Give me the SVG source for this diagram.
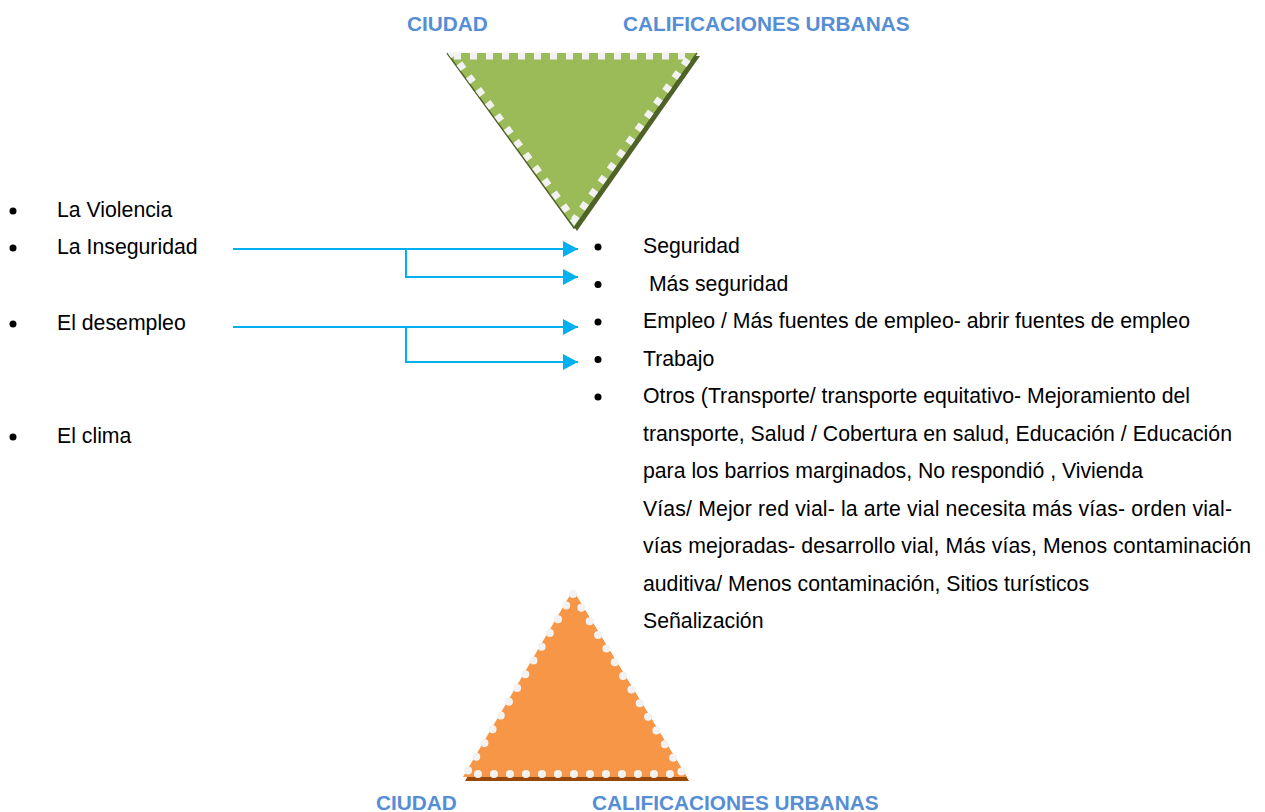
<svg xmlns="http://www.w3.org/2000/svg" width="1265" height="812" viewBox="0 0 1265 812">
<defs>
<style>
.t{font-family:"Liberation Sans",Arial,sans-serif;font-size:21.25px;fill:#000}
.h{font-family:"Liberation Sans",Arial,sans-serif;font-size:20.8px;font-weight:bold;fill:#558ED5}
.c{fill:none;stroke:#00B0F0;stroke-width:2}
.b{fill:#000}
</style>
<marker id="ah" markerWidth="16" markerHeight="16" viewBox="0 0 16 16" refX="15" refY="8" orient="auto" markerUnits="userSpaceOnUse">
<path d="M0,0 L15,8 L0,16 Z" fill="#00B0F0"/>
</marker>
</defs>
<rect width="1265" height="812" fill="#fff"/>

<g id="titles-top">
<text class="h" x="407" y="31">CIUDAD</text>
<text class="h" x="623" y="31">CALIFICACIONES URBANAS</text>
</g>

<g id="triangle-green">
<polygon points="447,53 697,53 574,228" fill="#4F6228" transform="translate(3,3)"/>
<polygon points="447,53 697,53 574,228" fill="#9BBB59"/>
<path d="M447,53 L574,228 L697,53" fill="none" stroke="#4F6228" stroke-width="1.5"/>
<polygon points="454,56 690,56 574,220" fill="none" stroke="#F2F2F2" stroke-width="7" stroke-dasharray="7 9"/>
</g>

<g id="triangle-orange">
<polygon points="573,590 687,777 463,777" fill="#984807" transform="translate(2,4)"/>
<polygon points="573,590 687,777 463,777" fill="#F79646"/>
<polygon points="573,594 683,774 466,774" fill="none" stroke="#F2F2F2" stroke-width="8" stroke-linecap="round" stroke-dasharray="0 16"/>
</g>

<g id="titles-bottom">
<text class="h" x="376" y="810">CIUDAD</text>
<text class="h" x="592" y="810">CALIFICACIONES URBANAS</text>
</g>

<g id="left-list">
<circle class="b" cx="13" cy="211" r="3.5"/><text class="t" x="57" y="217">La Violencia</text>
<circle class="b" cx="13" cy="248" r="3.5"/><text class="t" x="57" y="254">La Inseguridad</text>
<circle class="b" cx="13" cy="324" r="3.5"/><text class="t" x="57" y="330">El desempleo</text>
<circle class="b" cx="13" cy="437" r="3.5"/><text class="t" x="57" y="443">El clima</text>
</g>

<g id="right-list">
<circle class="b" cx="598" cy="247" r="3.5"/><text class="t" x="643" y="253">Seguridad</text>
<circle class="b" cx="598" cy="284.5" r="3.5"/><text class="t" x="643" y="290.5" xml:space="preserve"> Más seguridad</text>
<circle class="b" cx="598" cy="322" r="3.5"/><text class="t" x="643" y="328" textLength="547" lengthAdjust="spacing">Empleo / Más fuentes de empleo- abrir fuentes de empleo</text>
<circle class="b" cx="598" cy="359.5" r="3.5"/><text class="t" x="643" y="365.5">Trabajo</text>
<circle class="b" cx="598" cy="397" r="3.5"/><text class="t" x="643" y="403" textLength="547" lengthAdjust="spacing">Otros (Transporte/ transporte equitativo- Mejoramiento del</text>
<text class="t" x="643" y="440.5" textLength="589" lengthAdjust="spacing">transporte, Salud / Cobertura en salud, Educación / Educación</text>
<text class="t" x="643" y="478" textLength="500" lengthAdjust="spacing">para los barrios marginados, No respondió , Vivienda</text>
<text class="t" x="643" y="515.5" textLength="589" lengthAdjust="spacing">Vías/ Mejor red vial- la arte vial necesita más vías- orden vial-</text>
<text class="t" x="643" y="553" textLength="608" lengthAdjust="spacing">vías mejoradas- desarrollo vial, Más vías, Menos contaminación</text>
<text class="t" x="643" y="590.5" textLength="446" lengthAdjust="spacing">auditiva/ Menos contaminación, Sitios turísticos</text>
<text class="t" x="643" y="628">Señalización</text>
</g>

<g id="connectors">
<path class="c" d="M233,249 H578" marker-end="url(#ah)"/>
<path class="c" d="M406,249 V277 H578" marker-end="url(#ah)"/>
<path class="c" d="M233,327 H578" marker-end="url(#ah)"/>
<path class="c" d="M406,327 V362 H578" marker-end="url(#ah)"/>
</g>
</svg>
